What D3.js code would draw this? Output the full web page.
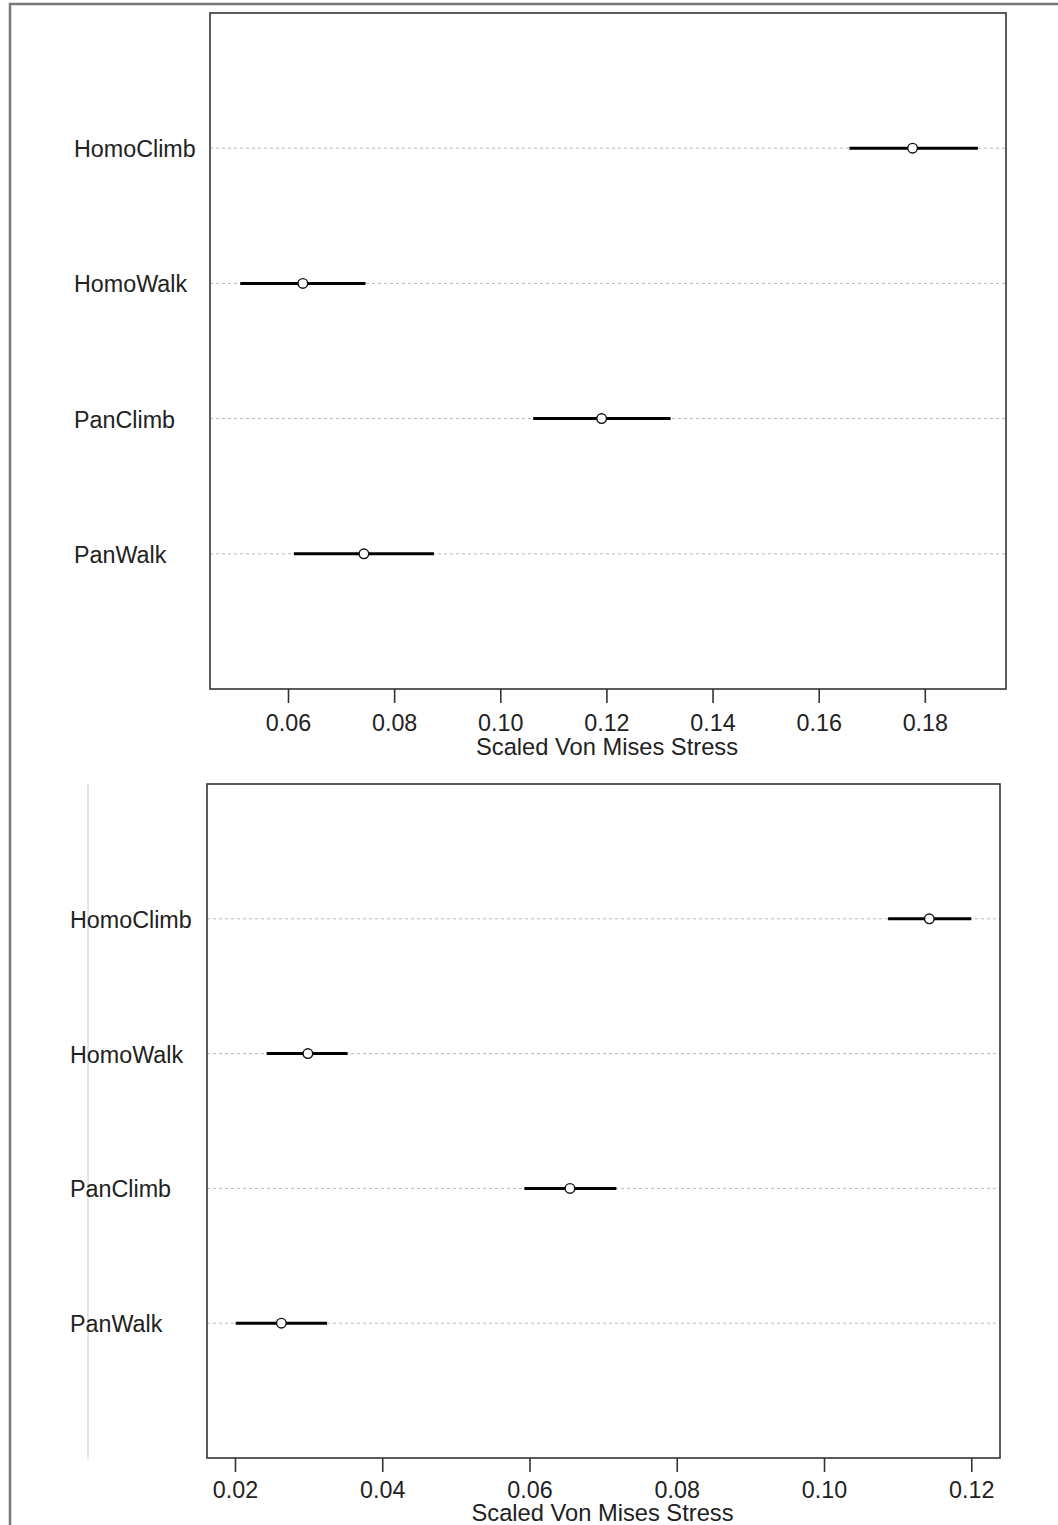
<!DOCTYPE html>
<html>
<head>
<meta charset="utf-8">
<script src="https://cdn.jsdelivr.net/npm/d3@7"></script>
<style>
  html, body { margin: 0; padding: 0; background: #fff; }
  svg { display: block; }
  text { font-family: "Liberation Sans", Arial, sans-serif; fill: #222; }
</style>
</head>
<body>
<svg id="chart" width="1058" height="1525"></svg>
<script>
// Rows, listed top to bottom
const categories = ["HomoClimb", "HomoWalk", "PanClimb", "PanWalk"];

// Panel 1: mean and interval of scaled Von Mises stress
const topMeans = [0.1777, 0.0628, 0.1191, 0.0743];
const topLower = [0.1658, 0.0510, 0.1062, 0.0611];
const topUpper = [0.1900, 0.0746, 0.1321, 0.0875];
const topTicks = [0.06, 0.08, 0.10, 0.12, 0.14, 0.16, 0.18];

// Panel 2
const bottomMeans = [0.1143, 0.0299, 0.0655, 0.0263];
const bottomLower = [0.1087, 0.0243, 0.0593, 0.0201];
const bottomUpper = [0.1200, 0.0353, 0.0718, 0.0325];
const bottomTicks = [0.02, 0.04, 0.06, 0.08, 0.10, 0.12];

const axisTitle = "Scaled Von Mises Stress";

const svg = d3.select("#chart");

// outer border of the figure (top and left edges visible)
svg.append("rect")
  .attr("x", 10).attr("y", 4)
  .attr("width", 1100).attr("height", 1600)
  .attr("fill", "none").attr("stroke", "#7a7a7a").attr("stroke-width", 2.5);

function dotPanel(cfg) {
  const g = svg.append("g");
  const x = d3.scaleLinear().domain(cfg.xDomain).range([cfg.left, cfg.right]);
  // dotchart rows sit at 1..n, plot spans 0..n+1
  const n = cfg.cats.length;
  const y = d3.scaleLinear().domain([0, n + 1]).range([cfg.bottom, cfg.top]);
  const rowY = i => y(n - i);

  const rows = cfg.cats.map((c, i) => ({
    cat: c, mean: cfg.means[i], lo: cfg.lower[i], hi: cfg.upper[i], i
  }));

  // dotted guide lines
  g.selectAll("line.guide").data(rows).join("line")
    .attr("class", "guide")
    .attr("x1", cfg.left).attr("x2", cfg.right)
    .attr("y1", d => rowY(d.i)).attr("y2", d => rowY(d.i))
    .attr("stroke", "#b8b8b8").attr("stroke-width", 1)
    .attr("stroke-dasharray", "3,3");

  // interval bars
  g.selectAll("line.ci").data(rows).join("line")
    .attr("class", "ci")
    .attr("x1", d => x(d.lo)).attr("x2", d => x(d.hi))
    .attr("y1", d => rowY(d.i)).attr("y2", d => rowY(d.i))
    .attr("stroke", "#000").attr("stroke-width", 3);

  // mean points
  g.selectAll("circle.pt").data(rows).join("circle")
    .attr("class", "pt")
    .attr("cx", d => x(d.mean)).attr("cy", d => rowY(d.i))
    .attr("r", 4.8)
    .attr("fill", "#fff").attr("stroke", "#111").attr("stroke-width", 1.4);

  // row labels, left aligned
  g.selectAll("text.lab").data(rows).join("text")
    .attr("class", "lab")
    .attr("x", cfg.labelX).attr("y", d => rowY(d.i) + 9)
    .attr("font-size", 23.3)
    .text(d => d.cat);

  // frame
  g.append("rect")
    .attr("x", cfg.left).attr("y", cfg.top)
    .attr("width", cfg.right - cfg.left).attr("height", cfg.bottom - cfg.top)
    .attr("fill", "none").attr("stroke", "#333").attr("stroke-width", 1.6);

  // x axis
  const ax = g.append("g")
    .attr("transform", `translate(0,${cfg.bottom})`)
    .call(d3.axisBottom(x).tickValues(cfg.ticks).tickSize(14).tickPadding(cfg.tickPad)
      .tickFormat(d3.format(".2f")));
  ax.select(".domain").remove();
  ax.selectAll(".tick line").attr("stroke", "#333").attr("stroke-width", 1.6);
  ax.selectAll(".tick text")
    .attr("font-size", 23.3)
    .attr("font-family", "'Liberation Sans', Arial, sans-serif")
    .attr("fill", "#222");

  g.append("text")
    .attr("x", (cfg.left + cfg.right) / 2 - 1)
    .attr("y", cfg.titleY)
    .attr("text-anchor", "middle")
    .attr("font-size", 23.7)
    .text(axisTitle);
  return { x, y };
}

dotPanel({
  cats: categories, means: topMeans, lower: topLower, upper: topUpper,
  ticks: topTicks, xDomain: [0.0453, 0.1953],
  left: 210, right: 1006, top: 13, bottom: 689,
  labelX: 74, titleY: 755, tickPad: 11
});

// faint vertical rule to the left of the second panel
svg.append("line")
  .attr("x1", 88).attr("x2", 88).attr("y1", 784).attr("y2", 1459)
  .attr("stroke", "#dcdcdc").attr("stroke-width", 1.5);

dotPanel({
  cats: categories, means: bottomMeans, lower: bottomLower, upper: bottomUpper,
  ticks: bottomTicks, xDomain: [0.0162, 0.1239],
  left: 207, right: 1000, top: 784, bottom: 1458,
  labelX: 70, titleY: 1521, tickPad: 9
});
</script>
</body>
</html>
